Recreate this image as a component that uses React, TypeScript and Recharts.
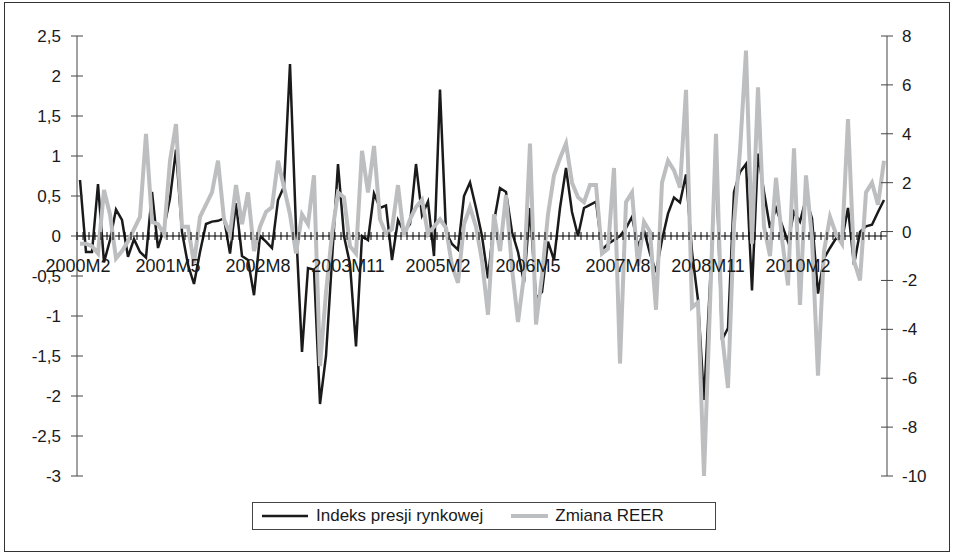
import { LineChart, Line, XAxis, YAxis, ReferenceLine, Legend } from "recharts";

const indeksPresji = [
  0.7, -0.2, -0.2, 0.65, -0.33, -0.05, 0.33, 0.2, -0.26, -0.04,
  -0.2, -0.27, 0.55, -0.15, 0.1, 0.47, 1.08, 0.05, -0.36, -0.6,
  -0.2, 0.15, 0.18, 0.19, 0.22, -0.22, 0.41, -0.25, -0.3, -0.74,
  0.0, -0.07, -0.15, 0.45, 0.62, 2.15, 0.1, -1.45, -0.4, -0.42,
  -2.1, -1.5, -0.3, 0.9, 0.0, -0.35, -1.38, 0.0, -0.05, 0.53,
  0.35, 0.38, -0.3, 0.2, 0.05, 0.15, 0.9, 0.26, 0.43, -0.25,
  1.83, 0.05, -0.1, -0.17, 0.5, 0.67, 0.35, 0.0, -0.53, 0.18,
  0.6, 0.55, 0.05, -0.2, -0.58, 0.35, -0.78, -0.7, -0.07, -0.3,
  0.35, 0.85, 0.3, 0.0, 0.35, 0.39, 0.43, -0.17, -0.1, -0.05,
  0.0, 0.1, 0.24, -0.13, 0.07, -0.22, -0.45, -0.05, 0.28, 0.48,
  0.42, 0.77, -0.2, -0.8, -2.05, -0.6, 0.97, -1.3, -1.15, 0.55,
  0.8, 0.9, -0.68, 1.03, 0.55, 0.1, 0.35, 0.14, -0.07, 0.3,
  0.18, 0.47, 0.22, -0.72, -0.28, -0.15, -0.03, -0.05, 0.35, -0.36,
  0.05, 0.12, 0.14, 0.3, 0.45,
];

const zmianaReer = [
  -0.5, -0.5, -0.6, -0.9, 1.7, 0.7, -1.1, -0.8, -0.4, 0.1,
  0.6, 4.0, 0.4, 0.3, -0.1, 2.9, 4.4, 0.2, 0.2, -1.3,
  0.6, 1.1, 1.6, 2.9, 0.5, -0.1, 1.9, 0.3, 1.6, -0.8,
  0.2, 0.8, 1.0, 2.9, 1.8, 0.7, -0.9, 0.7, 0.3, 2.3,
  -5.5, -2.5, -0.1, 1.6, 1.4, -0.6, -0.9, 3.3, 1.6, 3.5,
  0.5, -0.1, 0.1, 1.9, -0.2, 0.5, 1.0, 1.3, -0.1, 0.2,
  0.5, 0.15, -1.4, -2.1, 0.3, 1.0, 0.2, -1.2, -3.4, 0.7,
  -0.8, 1.5, -1.5, -3.7, -1.8, 3.6, -3.8, -1.8, 0.7, 2.3,
  3.0, 3.6, 2.0, 1.4, 1.2, 1.9, 1.9, -0.9, -0.7, 2.6,
  -5.4, 1.2, 1.6, -1.4, 0.4, 0.0, -3.2, 2.0, 2.9, 2.5,
  1.8, 5.8, -3.1, -2.9, -10.0, -3.0, 4.0, -4.2, -6.4, 0.3,
  3.3, 7.4, -0.5, 5.9, 0.2, -1.0, 2.2, -0.3, -2.2, 3.4,
  -3.0, 2.3, -0.3, -5.9, -0.8, 0.6, -0.1, -0.5, 4.6, -1.2,
  -2.0, 1.6, 2.0, 1.1, 2.9,
];

// monthly categories 2000M2 ... 2011M4
const months: string[] = [];
for (let k = 0; k < indeksPresji.length; k++) {
  const m = 1 + k; // month offset from Jan 2000
  months.push(`${2000 + Math.floor(m / 12)}M${(m % 12) + 1}`);
}

const leftTicks = [-3, -2.5, -2, -1.5, -1, -0.5, 0, 0.5, 1, 1.5, 2, 2.5];
const rightTicks = [-10, -8, -6, -4, -2, 0, 2, 4, 6, 8];

const data = months.map((m, i) => ({
  month: m,
  indeks: indeksPresji[i],
  reer: zmianaReer[i],
}));

const W = 954;
const H = 555;
const PLOT_TOP = 36;
const PLOT_BOTTOM = 476;
const PLOT_LEFT = 77;
const PLOT_RIGHT = 887;
const STEP = (PLOT_RIGHT - PLOT_LEFT) / months.length;
const Y0 = PLOT_TOP + (2.5 / 5.5) * (PLOT_BOTTOM - PLOT_TOP);
const FONT = "'Liberation Sans', Arial, sans-serif";
const TXT = "#1a1a1a";

const fmt = (v: number) => String(v).replace(".", ",");

const LeftTick = (props: any) => {
  const { x, y, payload } = props;
  return (
    <g>
      <line x1={x - 6} x2={x + 6} y1={y} y2={y} stroke="#444" />
      <text x={x - 16} y={y + 6} textAnchor="end" fontSize={17} fontFamily={FONT} fill={TXT}>
        {fmt(payload.value)}
      </text>
    </g>
  );
};

const RightTick = (props: any) => {
  const { x, y, payload } = props;
  return (
    <g>
      <line x1={x - 6} x2={x + 6} y1={y} y2={y} stroke="#444" />
      <text x={x + 15} y={y + 6} textAnchor="start" fontSize={17} fontFamily={FONT} fill={TXT}>
        {fmt(payload.value)}
      </text>
    </g>
  );
};

const XTick = (props: any) => {
  const { x, index, payload } = props;
  const bx = x - STEP / 2;
  return (
    <g>
      <line x1={bx} x2={bx} y1={Y0 - 4} y2={Y0 + 4} stroke="#000" />
      {index % 15 === 0 && (
        <text x={bx + 1} y={Y0 + 36} textAnchor="middle" fontSize={18} fontFamily={FONT} fill={TXT}>
          {payload.value}
        </text>
      )}
    </g>
  );
};

const LegendBox = () => (
  <div
    style={{
      width: 464,
      height: 28,
      border: "1px solid #444",
      boxSizing: "border-box",
      fontFamily: FONT,
      fontSize: 17,
      color: TXT,
      display: "flex",
      alignItems: "center",
    }}
  >
    <svg width={56} height={10} style={{ marginLeft: 9 }}>
      <line x1={0} x2={46} y1={5} y2={5} stroke="#1a1a1a" strokeWidth={2.5} />
    </svg>
    <span style={{ marginLeft: -2 }}>Indeks presji rynkowej</span>
    <svg width={45} height={10} style={{ marginLeft: 28 }}>
      <line x1={0} x2={37} y1={5} y2={5} stroke="#bdbec0" strokeWidth={4} />
    </svg>
    <span style={{ marginLeft: -1 }}>Zmiana REER</span>
  </div>
);

export default function App() {
  return (
    <div style={{ position: "absolute", left: 0, top: 0, width: W, height: H, background: "#fff" }}>
      <div
        style={{
          position: "absolute",
          left: 4,
          top: 2,
          width: 946,
          height: 550,
          border: "1px solid #333",
          boxSizing: "border-box",
        }}
      />
      <div style={{ position: "absolute", left: 0, top: 0 }}>
        <LineChart
          width={W}
          height={H}
          data={data}
          margin={{ top: PLOT_TOP, right: W - PLOT_RIGHT - 60, bottom: H - PLOT_BOTTOM - 30, left: PLOT_LEFT - 60 }}
        >
          <XAxis
            dataKey="month"
            interval={0}
            axisLine={false}
            tickLine={false}
            tickSize={0}
            tickMargin={0}
            height={30}
            padding={{ left: STEP / 2, right: STEP / 2 }}
            tick={<XTick />}
          />
          <YAxis
            yAxisId="left"
            orientation="left"
            domain={[-3, 2.5]}
            ticks={leftTicks}
            interval={0}
            width={60}
            tickSize={0}
            tickMargin={0}
            tickLine={false}
            axisLine={{ stroke: "#444" }}
            tick={<LeftTick />}
          />
          <YAxis
            yAxisId="right"
            orientation="right"
            domain={[-10, 8]}
            ticks={rightTicks}
            interval={0}
            width={60}
            tickSize={0}
            tickMargin={0}
            tickLine={false}
            axisLine={{ stroke: "#444" }}
            tick={<RightTick />}
          />
          <ReferenceLine yAxisId="left" y={0} stroke="#000" strokeWidth={1} />
          <Legend
            layout="horizontal"
            verticalAlign="middle"
            align="center"
            wrapperStyle={{ left: 252, top: 502, width: 464, height: 28 }}
            content={<LegendBox />}
          />
          <Line
            yAxisId="left"
            type="linear"
            dataKey="indeks"
            name="Indeks presji rynkowej"
            stroke="#1a1a1a"
            strokeWidth={2.5}
            dot={false}
            isAnimationActive={false}
          />
          <Line
            yAxisId="right"
            type="linear"
            dataKey="reer"
            name="Zmiana REER"
            stroke="#bdbec0"
            strokeWidth={4}
            dot={false}
            isAnimationActive={false}
          />
        </LineChart>
      </div>
    </div>
  );
}
